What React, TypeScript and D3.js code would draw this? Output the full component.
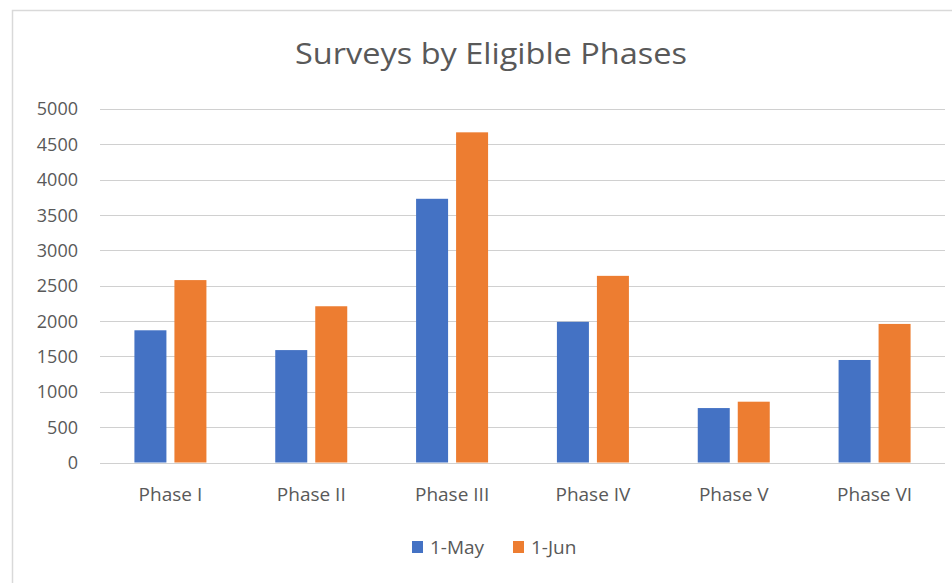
import React from "react";
import * as d3 from "d3";

const categories = ["Phase I", "Phase II", "Phase III", "Phase IV", "Phase V", "Phase VI"];
const seriesNames = ["1-May", "1-Jun"];
const mayValues = [1870, 1590, 3730, 1990, 770, 1450];
const junValues = [2580, 2210, 4670, 2640, 860, 1960];
const yTicks = [0, 500, 1000, 1500, 2000, 2500, 3000, 3500, 4000, 4500, 5000];
const colors = ["#4472C4", "#ED7D31"];
const title = "Surveys by Eligible Phases";

const W = 952;
const H = 583;
const FONT = "'Open Sans', 'Noto Sans', sans-serif";
const TEXT = "#595959";

export default function App() {
  const x0 = d3.scaleBand<string>().domain(categories).range([100, 945]).paddingInner(0).paddingOuter(0);
  const x1 = d3.scaleBand<string>().domain(seriesNames).range([-36, 36]).paddingInner(0.2).paddingOuter(0);
  const y = d3.scaleLinear().domain([0, 5000]).range([462.5, 109]);
  const seriesValues = [mayValues, junValues];

  return (
    <svg width={W} height={H} style={{ position: "absolute", left: 0, top: 0, background: "#fff" }} fontFamily={FONT}>
      <rect x={12.5} y={10.5} width={1000} height={700} fill="#fff" stroke="#d9d9d9" strokeWidth={1.5} />
      <text x={491} y={64} textAnchor="middle" fontSize={29} fill={TEXT} textLength={392} lengthAdjust="spacingAndGlyphs">
        {title}
      </text>
      {yTicks.map((t) => (
        <g key={t}>
          <line x1={100} x2={945} y1={Math.round(y(t)) + 0.5} y2={Math.round(y(t)) + 0.5} stroke="#d0d0d0" strokeWidth={1} />
          <text x={78} y={y(t)} dy="0.36em" textAnchor="end" fontSize={18} fill={TEXT}>
            {t}
          </text>
        </g>
      ))}
      {categories.map((c, i) => (
        <g key={c} transform={`translate(${x0(c)! + x0.bandwidth() / 2},0)`}>
          {seriesNames.map((s, j) => (
            <rect
              key={s}
              x={x1(s)!}
              y={y(seriesValues[j][i])}
              width={x1.bandwidth()}
              height={y(0) - y(seriesValues[j][i])}
              fill={colors[j]}
            />
          ))}
          <text x={0} y={501} textAnchor="middle" fontSize={19} fill={TEXT}>
            {c}
          </text>
        </g>
      ))}
      {seriesNames.map((s, j) => {
        const lx = j === 0 ? 412 : 513;
        return (
          <g key={s}>
            <rect x={lx} y={541} width={11} height={12} fill={colors[j]} />
            <text x={lx + 18} y={554} fontSize={19} fill={TEXT}>
              {s}
            </text>
          </g>
        );
      })}
    </svg>
  );
}
